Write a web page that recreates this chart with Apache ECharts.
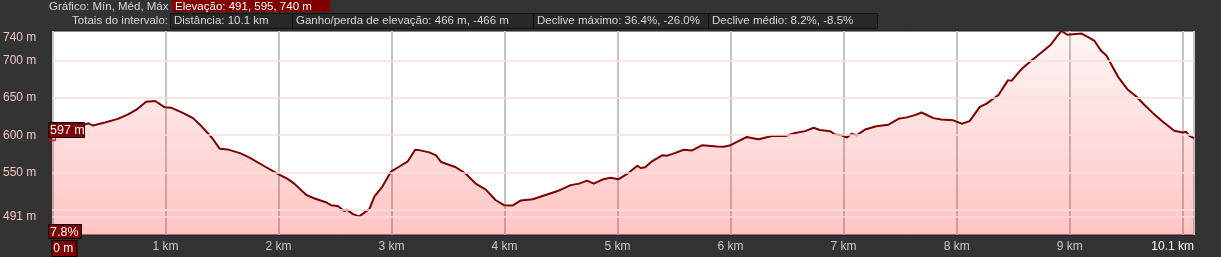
<!DOCTYPE html>
<html>
<head>
<meta charset="utf-8">
<script src="https://cdn.jsdelivr.net/npm/echarts@6/dist/echarts.min.js"></script>
<style>
html,body{margin:0;padding:0;background:#333333;}
#c{width:1221px;height:257px;}
</style>
</head>
<body>
<div id="c"></div>
<script>
// distance along the track (km)
const distKm = [0.00,0.05,0.185,0.32,0.36,0.465,0.58,0.67,0.74,0.83,0.91,0.995,1.05,1.14,1.245,1.32,1.41,1.48,1.55,1.66,1.745,1.88,1.995,2.085,2.14,2.245,2.32,2.42,2.465,2.525,2.585,2.605,2.66,2.715,2.805,2.85,2.92,2.995,3.07,3.145,3.21,3.245,3.335,3.395,3.44,3.495,3.57,3.66,3.745,3.835,3.92,3.995,4.07,4.145,4.25,4.47,4.585,4.66,4.73,4.79,4.865,4.94,5.01,5.085,5.175,5.205,5.245,5.305,5.395,5.44,5.5,5.585,5.66,5.75,5.88,5.94,6.0,6.07,6.145,6.22,6.25,6.365,6.485,6.57,6.66,6.735,6.79,6.88,6.925,6.985,7.03,7.07,7.115,7.19,7.29,7.395,7.485,7.56,7.63,7.69,7.795,7.865,7.97,8.045,8.115,8.205,8.265,8.37,8.455,8.485,8.575,8.66,8.75,8.835,8.925,8.98,9.105,9.16,9.22,9.28,9.325,9.43,9.515,9.59,9.66,9.735,9.825,9.925,10.0,10.03,10.06,10.1];
// elevation (m)
const elevM = [597,603,609,616,613,617,622,628,634,645,646,637.5,637,631,623,612,597,582,581,576,570,558,548,541,535,520,515,510,506,505,498,500,494,491,501,518,531,551,558,565,580.5,580,577,573,564,561,557,548,535,527,513,506,505.5,512.5,514,525,533,535,539,535,540.5,543,541,548,559,556,557,565,573,572.6,575.6,580.5,579.6,586.6,585,584.5,586.6,592,597.6,595.4,594.5,599,599,603,605.5,610,607,605.5,601,600,597,602,600,607.6,612,614,622,624,627,630.5,623,621,620,615.5,619,638,642.5,654,674,673,689,700,711,722,740,735,736.6,732,726.6,713,707,678,661,652,641,630,618,606,603.7,604.6,599,596];
// axis ticks / labels
const yLabelValues = [491,550,600,650,700,740];
const yGridValues = [491,500,550,600,650,700];
const xLabelValues = [0,1,2,3,4,5,6,7,8,9,10.1];
// header texts
const headerTitle = 'Gráfico: Mín, Méd, Máx';
const headerElev = 'Elevação: 491, 595, 740 m';
const totalsTitle = 'Totais do intervalo:';
const totalsBoxes = ['Distância: 10.1 km','Ganho/perda de elevação: 466 m, -466 m','Declive máximo: 36.4%, -26.0%','Declive médio: 8.2%, -8.5%'];
const gradeLabel = '7.8%';

const data = distKm.map((d,i)=>[d, elevM[i]]);

const chart = echarts.init(document.getElementById('c'), null, {renderer:'canvas'});
const FONT = 'Liberation Sans, Arial, sans-serif';

const boxX = [170,292,533,708,877];
const headerGraphics = [
  {type:'text', left:49, top:1, style:{text:headerTitle, fill:'#d8d8d8', font:'11.5px '+FONT}},
  {type:'rect', shape:{x:172,y:0,width:158,height:12}, style:{fill:'#800000'}},
  {type:'text', x:175, y:1, style:{text:headerElev, fill:'#ffffff', font:'11.5px '+FONT}},
  {type:'text', x:168, y:15, style:{text:totalsTitle, fill:'#d8d8d8', font:'11.5px '+FONT, align:'right'}}
];
totalsBoxes.forEach((t,i)=>{
  headerGraphics.push({type:'rect', shape:{x:boxX[i]+0.5,y:13.5,width:boxX[i+1]-boxX[i],height:15}, style:{fill:'#282828', stroke:'#111111', lineWidth:1}});
  headerGraphics.push({type:'text', x:boxX[i]+4, y:15, style:{text:t, fill:'#d8d8d8', font:'11.5px '+FONT}});
});
headerGraphics.push(
  {type:'rect', z:100, shape:{x:48.5,y:122.5,width:36,height:15}, style:{fill:'#800000', stroke:'#000', lineWidth:1}},
  {type:'text', z:101, x:50, y:124, style:{text:elevM[0].toFixed(0)+' m', fill:'#ffffff', font:'12.5px '+FONT}},
  {type:'rect', z:100, shape:{x:48.5,y:224.5,width:33,height:14}, style:{fill:'#800000', stroke:'#000', lineWidth:1}},
  {type:'text', z:101, x:50, y:226, style:{text:gradeLabel, fill:'#ffffff', font:'12.5px '+FONT}}
);

const option = {
  backgroundColor:'#333333',
  animation:false,
  grid:{left:49, right:27, top:31, bottom:18, show:true, backgroundColor:'#ffffff', borderColor:'#1a1a1a', borderWidth:1},
  xAxis:{
    type:'value', min:0, max:10.1, interval:1,
    axisLine:{show:false}, axisTick:{show:false},
    splitLine:{show:true, lineStyle:{color:'#c4c4c4', width:2}},
    axisLabel:{
      customValues:xLabelValues,
      color:'#c8c8c8', fontSize:12, fontFamily:FONT, margin:6,
      alignMinLabel:'left', alignMaxLabel:'right', hideOverlap:false,
      formatter:function(v){
        if(v===0) return '{b|0 m}';
        if(Math.abs(v-10.1)<1e-6) return '{w|10.1 km}';
        return v+' km';
      },
      rich:{
        b:{backgroundColor:'#800000', color:'#ffffff', borderColor:'#000', borderWidth:1, padding:[2,3,1,1], fontSize:12, fontFamily:FONT},
        w:{color:'#ffffff', fontSize:12, fontFamily:FONT}
      }
    }
  },
  yAxis:{
    type:'value', min:466, max:740,
    axisLine:{show:false}, axisTick:{show:false}, splitLine:{show:false},
    axisLabel:{
      customValues:yLabelValues,
      color:'#f0c4c4', fontSize:12, fontFamily:FONT, margin:16,
      formatter:function(v){ return v===740 ? '{t|740 m}' : v+' m'; },
      rich:{t:{color:'#f0c4c4', fontSize:12, fontFamily:FONT, padding:[14,0,0,0]}}
    }
  },
  graphic:headerGraphics,
  series:[
    {
      type:'line', data:[], z:1, silent:true,
      markLine:{silent:true, symbol:'none', label:{show:false},
        lineStyle:{color:'#fcdcdc', width:1.5, type:'solid'},
        data:yGridValues.map(v=>({yAxis:v}))}
    },
    {
      type:'line', data:data, z:3, showSymbol:false, smooth:false,
      lineStyle:{color:'#7d0000', width:2},
      areaStyle:{color:new echarts.graphic.LinearGradient(0,0,0,1,[
        {offset:0,color:'rgba(255,0,0,0.05)'},
        {offset:1,color:'rgba(255,0,0,0.33)'}
      ])}
    },
    {
      type:'scatter', data:[data[0]], z:5, clip:false, symbol:'rect', symbolSize:6,
      itemStyle:{color:'rgba(0,0,0,0)', borderColor:'#dd0000', borderWidth:1.5}
    }
  ]
};
chart.setOption(option);
</script>
</body>
</html>
